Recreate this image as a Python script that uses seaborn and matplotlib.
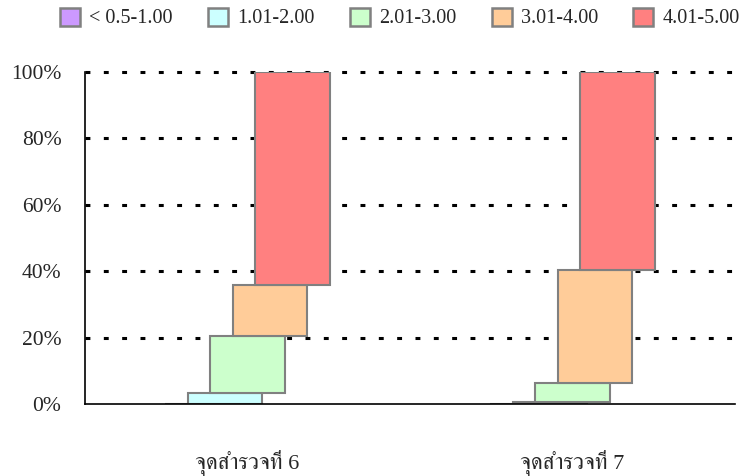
import numpy as np
import pandas as pd
import matplotlib
matplotlib.use("Agg")
import matplotlib.pyplot as plt
import seaborn as sns
from matplotlib import font_manager
from matplotlib.ft2font import FT2Font
from matplotlib.patches import Patch

# ---- data ----
categories = ["จุดสำรวจที่ 6", "จุดสำรวจที่ 7"]
series_names = ["< 0.5-1.00", "1.01-2.00", "2.01-3.00", "3.01-4.00", "4.01-5.00"]
share_lt1 = [0.0, 0.0]
share_1_2 = [3.3, 0.5]
share_2_3 = [17.2, 5.9]
share_3_4 = [15.4, 34.0]
share_4_5 = [64.1, 59.6]
series_values = [share_lt1, share_1_2, share_2_3, share_3_4, share_4_5]
colors = ["#CC99FF", "#CCFFFF", "#CCFFCC", "#FFCC99", "#FF8080"]
y_ticks = [0, 20, 40, 60, 80, 100]


def find_thai_font():
    # look for any installed font that has Thai glyphs, serif first
    found = []
    for f in font_manager.fontManager.ttflist:
        try:
            cm = FT2Font(f.fname).get_charmap()
        except Exception:
            continue
        if 0x0E08 in cm and 0x0E33 in cm:
            found.append(f.name)
    found = sorted(set(found), key=lambda n: (0 if "Serif" in n else 1, n))
    return found


sns.set_style("white")
thai_fonts = find_thai_font()
plt.rcParams["font.family"] = ["Liberation Serif"] + thai_fonts + ["DejaVu Sans"]

fig = plt.figure(figsize=(7.49, 4.76), dpi=100)
ax = fig.add_axes([85 / 749, 1 - 404 / 476, 650 / 749, 332 / 476])

bar_w = 0.23
step = 0.069
bottoms = np.zeros(len(categories))
for i, (name, vals, col) in enumerate(zip(series_names, series_values, colors)):
    vals = np.array(vals)
    xpos = np.arange(len(categories)) + 0.5 + (i - 2) * step
    df = pd.DataFrame({"x": xpos, "y": vals})
    sns.barplot(data=df, x="x", y="y", native_scale=True, width=bar_w,
                color=col, saturation=1, errorbar=None, bottom=bottoms.copy(),
                edgecolor="#808080", linewidth=1.5, ax=ax)
    bottoms = bottoms + vals

ax.set_xlim(0, 2)
ax.set_ylim(0, 100)
ax.set_xlabel("")
ax.set_ylabel("")

ax.set_yticks(y_ticks)
ax.set_yticklabels([f"{t}%" for t in y_ticks])
ax.yaxis.grid(True, color="black", linestyle=(0, (1.6, 4.4)), linewidth=2.2)
grid_lines = ax.get_ygridlines()
grid_lines[0].set_visible(False)   # baseline is the spine
grid_lines[-1].set_clip_on(False)  # keep the 100% line whole
ax.set_axisbelow(True)

ax.set_xticks([0, 1, 2])
ax.set_xticklabels(["", "", ""])
ax.set_xticks([0.5, 1.5], minor=True)
ax.set_xticklabels(categories, minor=True)
ax.tick_params(axis="x", which="minor", length=0, pad=33, labelsize=16)
ax.tick_params(axis="x", which="major", length=6, direction="out", width=1, color="black")
ax.tick_params(axis="y", length=8, pad=9, labelsize=15.5, direction="out", width=1, color="black")

for s in ["top", "right"]:
    ax.spines[s].set_visible(False)
for s in ["left", "bottom"]:
    ax.spines[s].set_color("black")
    ax.spines[s].set_linewidth(1.2)

handles = [Patch(facecolor=c, edgecolor="#808080", linewidth=1.8) for c in colors]
fig.legend(handles, series_names, loc="center", bbox_to_anchor=(400 / 749, 1 - 18 / 476),
           ncol=5, frameon=False, fontsize=14.5, handlelength=1.0, handleheight=1.0,
           handletextpad=0.45, columnspacing=1.75)

fig.savefig("out.png", dpi=100)
